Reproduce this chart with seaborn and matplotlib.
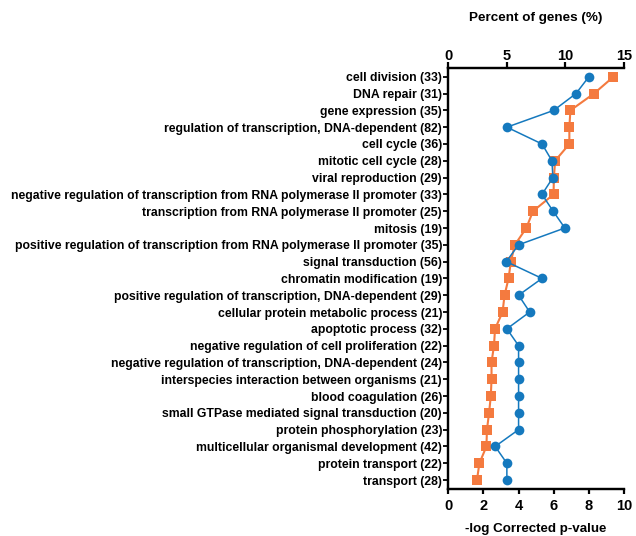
import matplotlib
matplotlib.use("Agg")
import matplotlib.pyplot as plt
import seaborn as sns
import numpy as np
import pandas as pd

categories = [
    "cell division (33)",
    "DNA repair (31)",
    "gene expression (35)",
    "regulation of transcription, DNA-dependent (82)",
    "cell cycle (36)",
    "mitotic cell cycle (28)",
    "viral reproduction (29)",
    "negative regulation of transcription from RNA polymerase II promoter (33)",
    "transcription from RNA polymerase II promoter (25)",
    "mitosis (19)",
    "positive regulation of transcription from RNA polymerase II promoter (35)",
    "signal transduction (56)",
    "chromatin modification (19)",
    "positive regulation of transcription, DNA-dependent (29)",
    "cellular protein metabolic process (21)",
    "apoptotic process (32)",
    "negative regulation of cell proliferation (22)",
    "negative regulation of transcription, DNA-dependent (24)",
    "interspecies interaction between organisms (21)",
    "blood coagulation (26)",
    "small GTPase mediated signal transduction (20)",
    "protein phosphorylation (23)",
    "multicellular organismal development (42)",
    "protein transport (22)",
    "transport (28)",
]
neg_log_p = [9.40, 8.29, 6.95, 6.89, 6.89, 6.08, 6.01, 5.99, 4.82, 4.44,
             3.79, 3.56, 3.43, 3.20, 3.09, 2.66, 2.60, 2.46, 2.46, 2.42,
             2.32, 2.20, 2.17, 1.77, 1.63]
percent_genes = [12.0, 10.9, 9.0, 5.0, 8.0, 8.85, 8.93, 8.0, 8.95, 9.95,
                 6.0, 4.95, 8.0, 6.0, 6.95, 5.0, 6.0, 6.0, 6.0, 6.0,
                 6.0, 6.0, 4.0, 5.0, 5.0]
bottom_ticks = [0, 2, 4, 6, 8, 10]
top_ticks = [0, 5, 10, 15]

sns.set_style("ticks")
plt.rcParams['font.family'] = ['Liberation Sans', 'DejaVu Sans']
plt.rcParams['font.weight'] = 'bold'
for k in ['text.color', 'axes.labelcolor', 'xtick.color', 'ytick.color',
          'xtick.labelcolor', 'ytick.labelcolor', 'axes.edgecolor']:
    plt.rcParams[k] = 'black'

df = pd.DataFrame({"cat": categories, "pos": np.arange(len(categories)),
                   "p": neg_log_p, "pct": percent_genes})

fig = plt.figure(figsize=(6.36, 5.36), dpi=100)
top_px, bot_px = 67.7, 489.3
ax = fig.add_axes([448.3/636, 1-bot_px/536, (624-448.3)/636, (bot_px-top_px)/536])
ax2 = ax.twiny()

orange = "#F47A3F"
blue = "#1579BE"

sns.lineplot(data=df, x="p", y="pos", sort=False, estimator=None, ax=ax,
             color=orange, marker="s", markersize=7.5, markeredgewidth=0,
             linewidth=1.5, zorder=3)
sns.lineplot(data=df, x="pct", y="pos", sort=False, estimator=None, ax=ax2,
             color=blue, marker="o", markersize=7, markeredgewidth=0,
             linewidth=1.1, zorder=3)

n = len(categories)
ax.set_ylim(n - 1 + 0.55, -0.54)
ax.set_xlim(0, 10)
ax2.set_xlim(0, 15)
ax.set_xticks(bottom_ticks)
ax2.set_xticks(top_ticks)
ax.set_yticks(np.arange(n))
ax.set_yticklabels(categories, fontsize=8.85, fontweight='bold')

for a in (ax, ax2):
    for s in ["left", "bottom", "top"]:
        a.spines[s].set_linewidth(1.6)
        a.spines[s].set_color("black")
    a.spines["right"].set_visible(False)

ax.tick_params(axis='x', labelsize=10.5, width=1.6, length=3.5, pad=3.5)
ax2.tick_params(axis='x', labelsize=10.5, width=1.6, length=4, pad=-0.5)
ax.tick_params(axis='y', width=1.3, length=3.5, pad=1)
for lbl in ax.get_xticklabels() + ax2.get_xticklabels():
    lbl.set_fontweight('bold')

ax.set_xlabel("-log Corrected p-value", fontsize=9.6, fontweight='bold', labelpad=7)
ax.set_ylabel("")
ax2.set_xlabel("Percent of genes (%)", fontsize=9.7, fontweight='bold', labelpad=20)
ax2.set_ylabel("")

fig.savefig("out.png", dpi=100)
